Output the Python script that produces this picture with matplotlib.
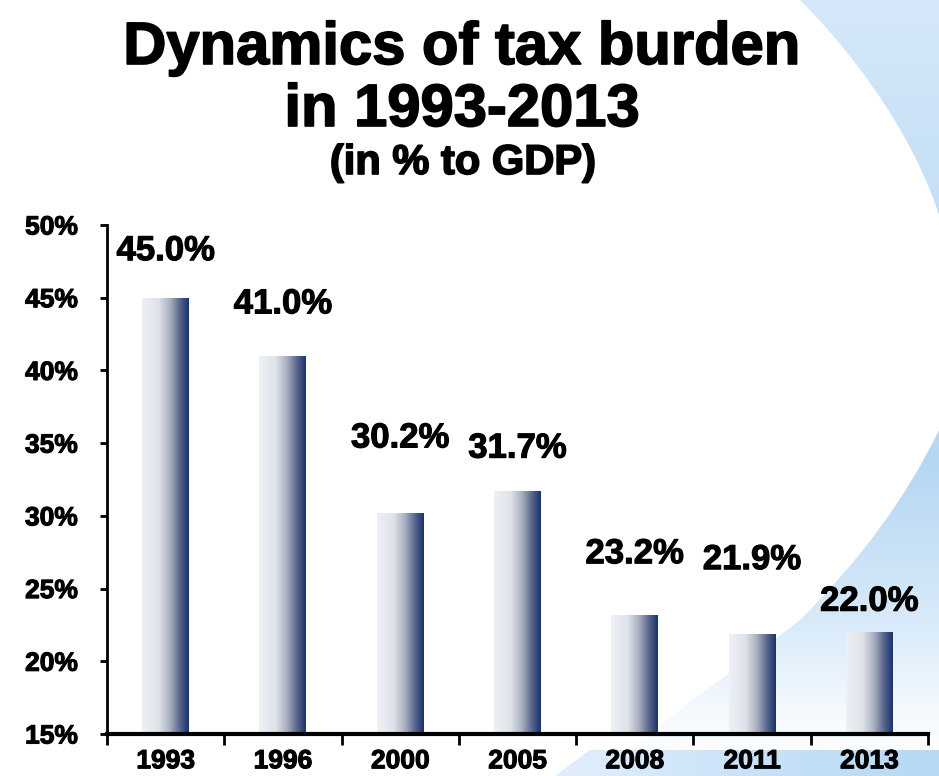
import matplotlib.pyplot as plt
import numpy as np
from matplotlib.path import Path
from matplotlib.patches import PathPatch, Polygon
from matplotlib.colors import LinearSegmentedColormap
import matplotlib.patheffects as pe

years = ['1993', '1996', '2000', '2005', '2008', '2011', '2013']
burden = [45.0, 41.0, 30.2, 31.7, 23.2, 21.9, 22.0]
value_labels = ['45.0%', '41.0%', '30.2%', '31.7%', '23.2%', '21.9%', '22.0%']
y_ticks = [15, 20, 25, 30, 35, 40, 45, 50]

# how far each value label sits above its bar (pixels)
label_lift = [47, 52, 75, 43, 61, 74, 31]

W, H = 939, 776
plt.rcParams['font.family'] = ['Liberation Sans', 'DejaVu Sans']
fig = plt.figure(figsize=(W / 100, H / 100), dpi=100)
heavy = [pe.withStroke(linewidth=1.2, foreground='black')]

# ---- background: pale blue with a big white swoosh ----
bg = fig.add_axes([0, 0, 1, 1], zorder=0)
bg.set_xlim(0, W)
bg.set_ylim(H, 0)
bg.axis('off')

blue_map = LinearSegmentedColormap.from_list('bgblue', [
    (0.0, '#d4e8f9'), (0.3, '#c3def6'), (0.6, '#b6d7f3'),
    (0.8, '#d8eafa'), (0.93, '#f7fbfe'), (1.0, '#ffffff')])
grad = np.linspace(0, 1, 256).reshape(-1, 1)
bg.imshow(grad, cmap=blue_map, extent=[0, W, H, 0], aspect='auto', zorder=0)

verts = [(0, 0), (800, 0),
         (860, 60), (915, 140), (939, 215),
         (950, 290), (950, 370), (939, 430),
         (905, 500), (860, 560), (800, 620),
         (740, 667), (690, 700), (650, 734),
         (620, 760), (600, 776), (0, 776), (0, 0)]
codes = [Path.MOVETO, Path.LINETO,
         Path.CURVE4, Path.CURVE4, Path.CURVE4,
         Path.CURVE4, Path.CURVE4, Path.CURVE4,
         Path.CURVE4, Path.CURVE4, Path.CURVE4,
         Path.CURVE4, Path.CURVE4, Path.CURVE4,
         Path.LINETO, Path.LINETO, Path.LINETO, Path.CLOSEPOLY]
bg.add_patch(PathPatch(Path(verts, codes), facecolor='white', edgecolor='none', zorder=1))

band = Polygon([(590, 750), (W, 750), (W, H), (555, H)], closed=True,
               facecolor='none', edgecolor='none', zorder=2)
bg.add_patch(band)
band_map = LinearSegmentedColormap.from_list('band', ['#e2effb', '#c9e2f8', '#b6d8f4'])
im = bg.imshow(np.linspace(0, 1, 256).reshape(1, -1), cmap=band_map,
               extent=[555, W, H, 750], aspect='auto', zorder=2)
im.set_clip_path(band)

# ---- title ----
fig.text(0.492, 1 - 64 / H, 'Dynamics of tax burden', ha='center', va='baseline',
         fontsize=43, fontweight='bold', path_effects=heavy)
fig.text(0.492, 1 - 126 / H, 'in 1993-2013', ha='center', va='baseline',
         fontsize=43, fontweight='bold', path_effects=heavy)
fig.text(0.493, 1 - 174 / H, '(in % to GDP)', ha='center', va='baseline',
         fontsize=30, fontweight='bold', path_effects=heavy)

# ---- bars ----
ax = fig.add_axes([107 / W, (H - 734) / H, (928 - 107) / W, (734 - 225) / H], zorder=1)
ax.set_facecolor('none')

x = np.arange(len(years))
bars = ax.bar(x, burden, width=0.4, color='none', edgecolor='none', zorder=2)

bar_map = LinearSegmentedColormap.from_list('bar', [
    (0.0, '#eef1f5'), (0.35, '#dfe3ea'), (0.6, '#a8aec0'),
    (0.82, '#56628a'), (1.0, '#17346a')])
hgrad = np.linspace(0, 1, 256).reshape(1, -1)
for b in bars:
    bx, by = b.get_x(), b.get_y()
    bw, bh = b.get_width(), b.get_height()
    img = ax.imshow(hgrad, cmap=bar_map, extent=[bx, bx + bw, by, by + bh],
                    aspect='auto', zorder=2)
    # path + transform keeps the axes clip box as well
    img.set_clip_path(b.get_path(), b.get_transform())

for b, lab, lift in zip(bars, value_labels, label_lift):
    ax.annotate(lab, (b.get_x() + b.get_width() / 2, b.get_height()),
                xytext=(0, lift), textcoords='offset pixels',
                ha='center', va='center', fontsize=25, fontweight='bold', zorder=3,
                path_effects=[pe.withStroke(linewidth=0.8, foreground='black')])

ax.set_xlim(-0.5, len(years) - 0.5)
ax.set_ylim(15, 50)
ax.set_yticks(y_ticks)
ax.set_yticklabels([f'{t}%' for t in y_ticks], fontsize=19, fontweight='bold')
ax.set_xticks(x)
ax.set_xticklabels(years, fontsize=19, fontweight='bold')
ax.set_xticks(np.arange(len(years) + 1) - 0.5, minor=True)
for t in ax.get_xticklabels() + ax.get_yticklabels():
    t.set_path_effects([pe.withStroke(linewidth=0.8, foreground='black')])

ax.tick_params(axis='x', which='major', length=0, pad=11)
ax.tick_params(axis='x', which='minor', length=8, width=2, direction='out')
ax.tick_params(axis='y', length=5, width=2, direction='out', pad=16)

for s in ['top', 'right']:
    ax.spines[s].set_visible(False)
ax.spines['left'].set_linewidth(2)
ax.spines['bottom'].set_linewidth(3)

fig.savefig('out.png', dpi=100)
